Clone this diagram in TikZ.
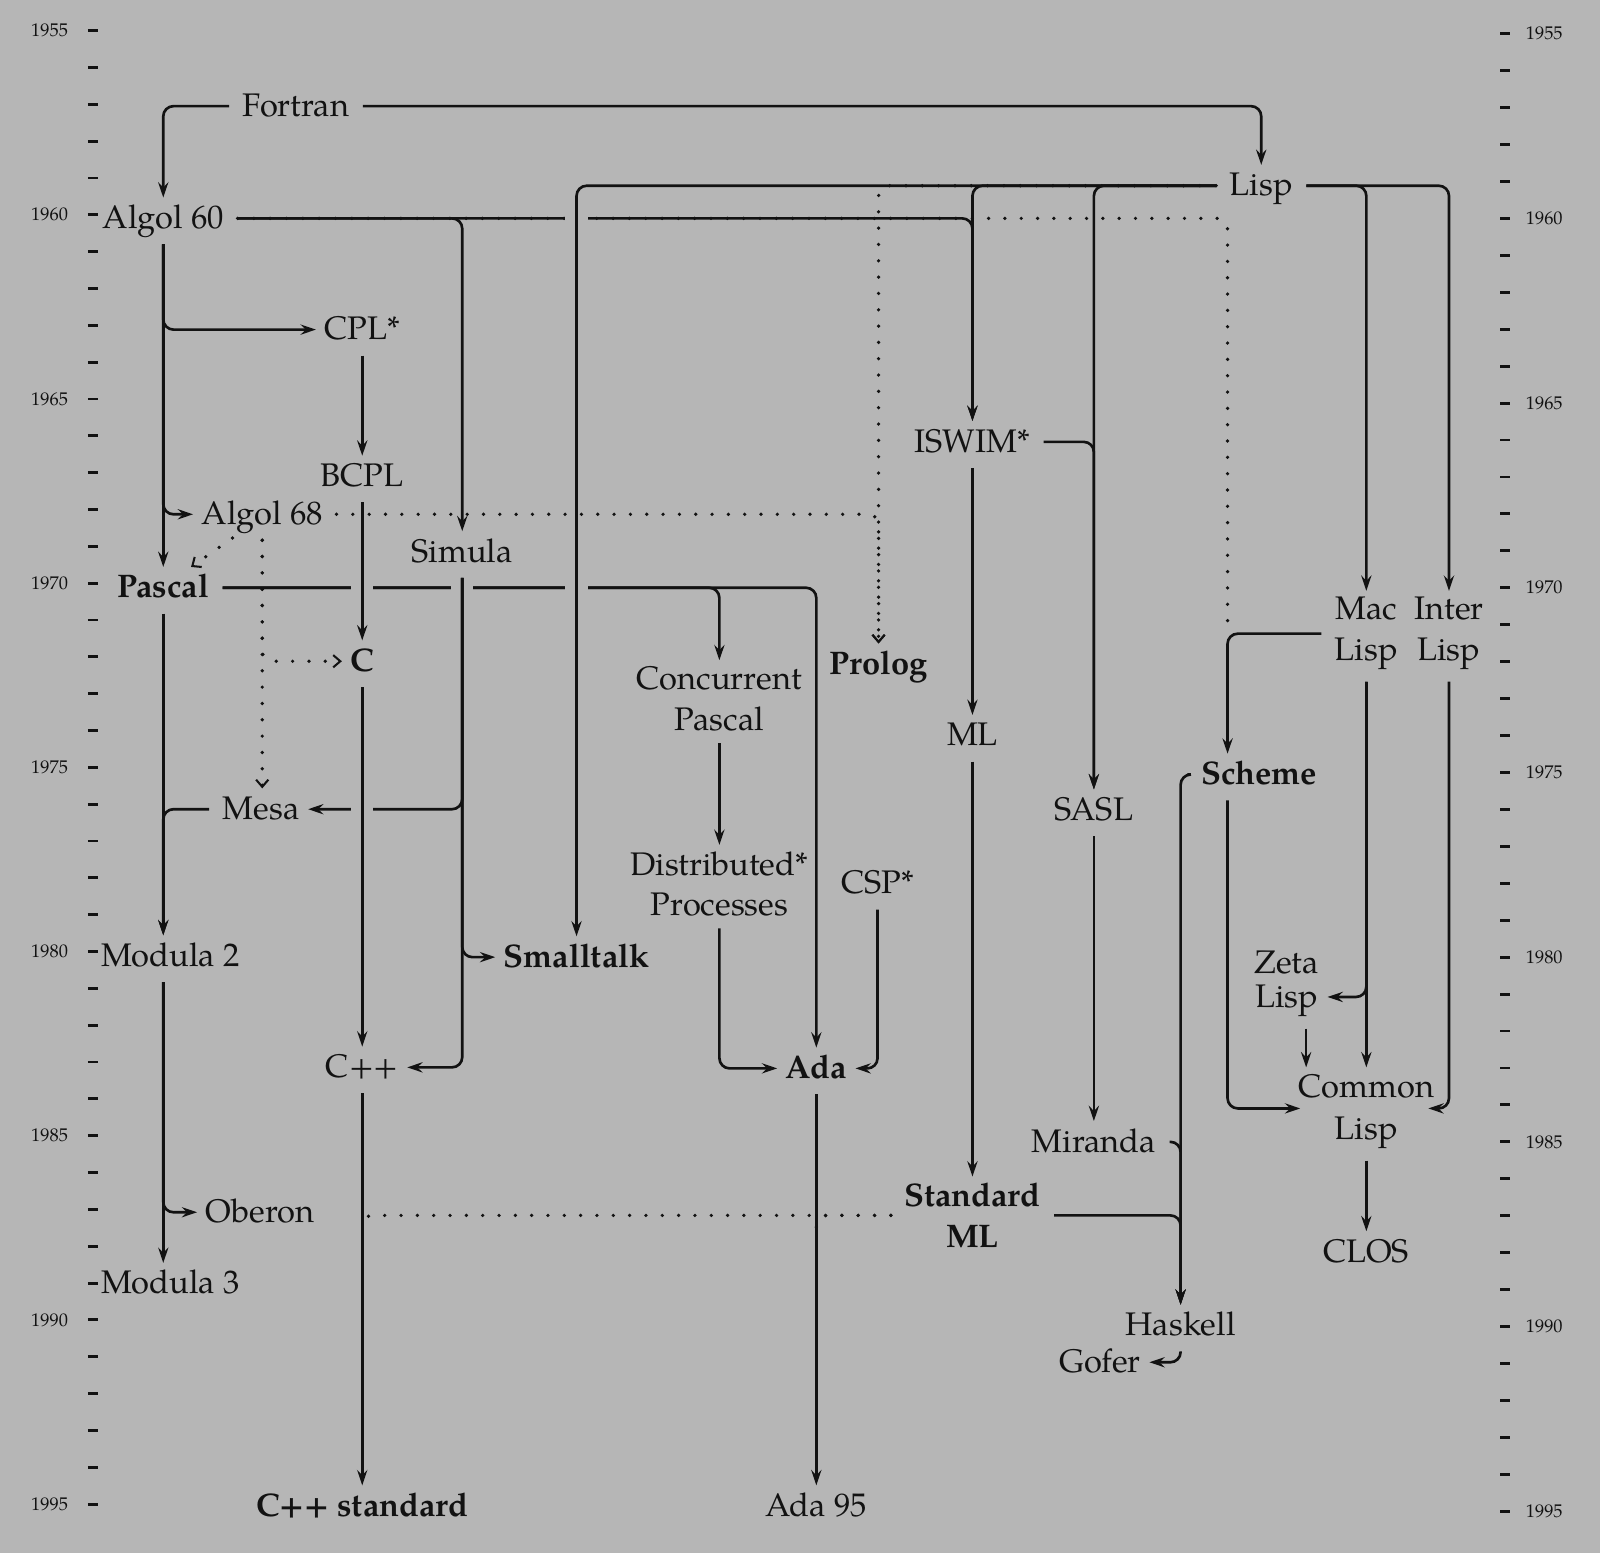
\documentclass[tikz,border=0pt]{standalone}
\usepackage{fontspec}
\setmainfont{TeX Gyre Pagella}
\usetikzlibrary{arrows.meta,calc}
\definecolor{paper}{RGB}{182,182,182}
\definecolor{ink}{RGB}{18,18,18}
\begin{document}
\begin{tikzpicture}[x=0.5pt,y=-0.5pt,
  lang/.style={anchor=base,inner xsep=4pt,inner ysep=3pt,text height=12pt,text depth=2pt,text=ink,font=\fontsize{16}{20}\selectfont},
  blang/.style={lang,font=\fontsize{16}{20}\selectfont\bfseries},
  mlang/.style={anchor=north,inner xsep=4pt,inner ysep=3pt,align=center,text=ink,font=\fontsize{16}{20}\selectfont},
  con/.style={draw=ink,line width=1.3pt,rounded corners=5pt,shorten <=2.5pt},
  arr/.style={con,-{Stealth[length=7.5pt,width=5pt,inset=2.6pt]}},
  dotl/.style={draw=ink,line width=1.8pt,line cap=round,dash pattern=on 0pt off 8pt,rounded corners=5pt,shorten <=2.5pt},
  dotarr/.style={dotl,-{Straight Barb[length=3.5pt,width=6pt,line width=1pt]}},
  tickmark/.style={draw=ink,line width=1.4pt},
  yearl/.style={text=ink,font=\fontsize{9}{10}\selectfont,inner sep=0pt},
  gapmask/.style={fill=paper}
]
% background / bounding box
\path[use as bounding box,fill=paper] (0,0) rectangle (1568,1522);

% time axes
\foreach \k in {0,...,40} {
  \draw[tickmark] (86,{30+36.1*\k}) -- (96,{30+36.1*\k});
  \draw[tickmark] (1470,{33+36.2*\k}) -- (1480,{33+36.2*\k});
}
\foreach \k [evaluate=\k as \yr using int(1955+\k)] in {0,5,...,40} {
  \node[yearl,anchor=east] (yl\yr) at (67,{30+36.1*\k}) {\yr};
  \node[yearl,anchor=west] (yr\yr) at (1495,{33+36.2*\k}) {\yr};
}

% languages (single line: base at visual centre + 11)
\node[lang]  (fortran)   at (290,114)  {Fortran};
\node[lang]  (lisp)      at (1236,192) {Lisp};
\node[lang]  (algol60)   at (160,224)  {Algol 60};
\node[lang]  (cpl)       at (355,333)  {CPL*};
\node[lang]  (iswim)     at (953,443)  {ISWIM*};
\node[lang]  (bcpl)      at (355,477)  {BCPL};
\node[lang]  (algol68)   at (257,514)  {Algol 68};
\node[lang]  (simula)    at (453,551)  {Simula};
\node[blang] (pascal)    at (160,586)  {Pascal};
\node[blang] (c)         at (355,658)  {C};
\node[blang] (prolog)    at (861,661)  {Prolog};
\node[lang]  (ml)        at (953,731)  {ML};
\node[blang] (scheme)    at (1234,769) {Scheme};
\node[lang]  (mesa)      at (256,803)  {Mesa};
\node[lang]  (sasl)      at (1072,804) {SASL};
\node[lang]  (csp)       at (860,876)  {CSP*};
\node[lang]  (modula2)   at (167,947)  {Modula 2};
\node[blang] (smalltalk) at (565,948)  {Smalltalk};
\node[lang]  (cpp)       at (355,1056) {C++};
\node[blang] (ada)       at (800,1057) {Ada};
\node[lang]  (miranda)   at (1072,1129){Miranda};
\node[lang]  (oberon)    at (255,1198) {Oberon};
\node[lang]  (clos)      at (1339,1237){CLOS};
\node[lang]  (modula3)   at (167,1268) {Modula 3};
\node[lang]  (haskell)   at (1157,1309){Haskell};
\node[lang]  (gofer)     at (1078,1345){Gofer};
\node[blang] (cppstd)    at (355,1486) {C++ standard};
\node[lang]  (ada95)     at (800,1486) {Ada 95};
% two-line nodes (north at first-line visual centre - 17)
\node[mlang] (macl)      at (1339,579)  {Mac\\Lisp};
\node[mlang] (interl)    at (1420,579)  {Inter\\Lisp};
\node[mlang] (concp)     at (705,647)   {Concurrent\\Pascal};
\node[mlang] (distp)     at (705,828)   {Distributed*\\Processes};
\node[mlang,font=\fontsize{16}{17}\selectfont] (zetal) at (1261,925) {Zeta\\Lisp};
\node[mlang,font=\fontsize{16}{21}\selectfont] (commonl) at (1339,1046) {Common\\Lisp};
\node[mlang,font=\fontsize{16}{20}\selectfont\bfseries] (stdml) at (953,1153) {Standard\\ML};

% helper coordinates
\coordinate (schT) at ($(scheme.north)+(-31,0)$);
\coordinate (schB) at ($(scheme.south)+(-31,0)$);
\coordinate (schJ) at (schT |- macl.west);
\coordinate (zetaIn) at ($(zetal.north east)+(0,52)$);
\coordinate (zetaOut) at ($(zetal.south)+(19,0)$);
\coordinate (clW) at ($(commonl.west)+(10,-3)$);
\coordinate (clE) at ($(commonl.east)+(-14,-3)$);
\coordinate (m2b) at (pascal.south |- modula2.south);
\coordinate (m2t) at (pascal.south |- modula2.north);
\coordinate (m3t) at (pascal.south |- modula3.north);
\coordinate (smlC) at ($(cppstd.north |- stdml.west)+(0,13)$);
\coordinate (smlA) at ($(ada95.north |- stdml.west)+(0,13)$);

% ---------- dotted influences ----------
\draw[dotarr] (lisp.west) -| (prolog.north);
\draw[dotarr] (algol68.east) -| (prolog.north);
\draw[dotl] (algol60.east) -| (schJ);
\draw[dotarr] ([xshift=-12.5pt]algol68.south) -- ([xshift=-13pt]pascal.north east);
\draw[dotarr] (algol68.south) |- (c.west);
\draw[dotarr] (algol68.south) -- (algol68.south |- mesa.north);
\draw[dotl] (stdml.west) -| (smlC);
\draw[dotl] (stdml.west) -| (smlA);

% ---------- solid, horizontal-first ----------
\draw[arr] (fortran.west) -| (algol60.north);
\draw[arr] (fortran.east) -| (lisp.north);
\draw[arr] (algol60.east) -| (simula.north);
\draw[arr] (algol60.east) -| (iswim.north);
\draw[arr] (pascal.east) -| (ada.north);
\draw[arr] (pascal.east) -| (concp.north);
\draw[arr] (lisp.west) -| (iswim.north);
\draw[arr] (lisp.west) -| (sasl.north);
\draw[arr] (iswim.east) -| (sasl.north);
\draw[arr] (lisp.east) -| (macl.north);
\draw[arr] (lisp.east) -| (interl.north);

% gaps where vertical lines cross
\fill[gapmask] ($(smalltalk.north |- algol60.east)+(-11,-5)$) rectangle ($(smalltalk.north |- algol60.east)+(11,5)$);
\fill[gapmask] ($(c.north |- pascal.east)+(-11,-5)$) rectangle ($(c.north |- pascal.east)+(11,5)$);
\fill[gapmask] ($(simula.south |- pascal.east)+(-11,-5)$) rectangle ($(simula.south |- pascal.east)+(11,5)$);
\fill[gapmask] ($(smalltalk.north |- pascal.east)+(-11,-5)$) rectangle ($(smalltalk.north |- pascal.east)+(11,5)$);

\draw[arr] (lisp.west) -| (smalltalk.north);
\draw[arr] (bcpl.south) -- (c.north);
\draw[arr] (simula.south) |- (mesa.east);
\draw[arr] (simula.south) |- (smalltalk.west);
\draw[arr] (simula.south) |- (cpp.east);

\fill[gapmask] ($(c.south |- mesa.east)+(-11,-5)$) rectangle ($(c.south |- mesa.east)+(11,5)$);
\draw[arr] (c.south) -- (cpp.north);

% ---------- remaining solid ----------
\draw[arr] (algol60.south) -- (algol60.south |- pascal.north);
\draw[arr] (algol60.south) |- (cpl.west);
\draw[arr] (algol60.south) |- (algol68.west);
\draw[arr] (cpl.south) -- (bcpl.north);
\draw[arr] (pascal.south) -- (m2t);
\draw[arr] (mesa.west) -| (m2t);
\draw[arr] (m2b) -- (m3t);
\draw[arr] (m2b) |- (oberon.west);
\draw[arr] (cpp.south) -- (cppstd.north);
\draw[arr] (concp.south) -- (distp.north);
\draw[arr] (distp.south) |- (ada.west);
\draw[arr] (csp.south) |- (ada.east);
\draw[arr] (ada.south) -- (ada95.north);
\draw[arr] (iswim.south) -- (ml.north);
\draw[arr] (ml.south) -- (stdml.north);
\draw[arr] (sasl.south) -- (miranda.north);
\draw[arr] (miranda.east) -| (haskell.north);
\draw[arr] (scheme.west) -| (haskell.north);
\draw[arr] (stdml.east) -| (haskell.north);
\draw[arr] (haskell.south) |- (gofer.east);
\draw[arr] (macl.west) -| (schT);
\draw[arr] (macl.south) |- (zetaIn);
\draw[arr] (macl.south) -- (commonl.north);
\draw[arr] (zetaOut) -- (zetaOut |- commonl.north);
\draw[arr] (schB) |- (clW);
\draw[arr] (interl.south) |- (clE);
\draw[arr] (commonl.south) -- (clos.north);
\end{tikzpicture}
\end{document}
